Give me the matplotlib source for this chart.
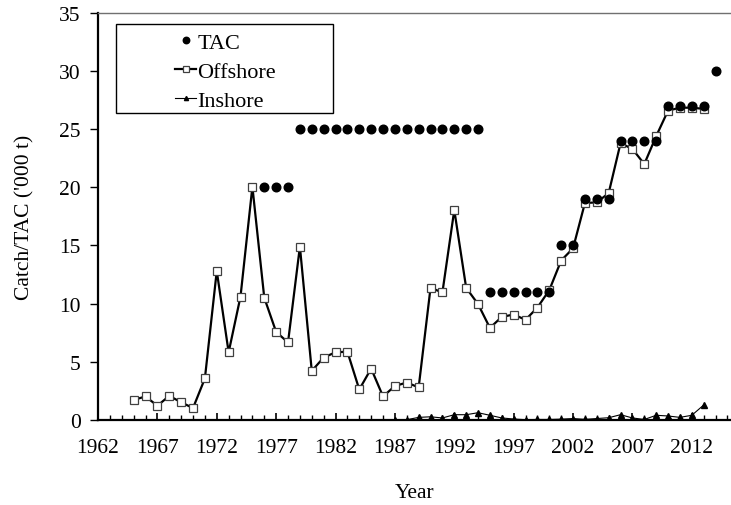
import matplotlib
matplotlib.use("Agg")
import matplotlib.pyplot as plt
from matplotlib.patches import Rectangle
import numpy as np

plt.rcParams['font.family'] = ['Liberation Serif', 'DejaVu Serif']

# ---- data ----
offshore_years = list(range(1965, 2014))
offshore_vals = [1.7, 2.0, 1.2, 2.05, 1.5, 1.0, 3.55, 12.8, 5.8, 10.6,
                 20.05, 10.5, 7.55, 6.65, 14.9, 4.2, 5.35, 5.8, 5.85, 2.6,
                 4.4, 2.0, 2.9, 3.2, 2.78, 11.35, 10.95, 18.05, 11.35, 9.95,
                 7.9, 8.85, 9.05, 8.6, 9.65, 11.15, 13.7, 14.75, 18.65, 18.7,
                 19.5, 23.8, 23.3, 22.0, 24.4, 26.6, 26.85, 26.85, 26.75]

tac_years = [1976, 1977, 1978] + list(range(1979, 1995)) + list(range(1995, 2001)) \
    + [2001, 2002] + [2003, 2004, 2005] + [2006, 2007, 2008, 2009] \
    + [2010, 2011, 2012, 2013] + [2014]
tac_vals = [20, 20, 20] + [25] * 16 + [11] * 6 + [15, 15] + [19, 19, 19] \
    + [24, 24, 24, 24] + [27, 27, 27, 27] + [30]

inshore_years = list(range(1987, 2014))
inshore_vals = [0.0, 0.0, 0.2, 0.25, 0.15, 0.43, 0.43, 0.6, 0.38, 0.15,
                0.06, 0.0, 0.02, 0.02, 0.05, 0.1, 0.03, 0.1, 0.17, 0.43,
                0.15, 0.02, 0.38, 0.32, 0.2, 0.38, 1.26]

xticks = list(range(1962, 2016, 5))
yticks = list(range(0, 36, 5))

# ---- figure ----
W, H = 731, 506
fig = plt.figure(figsize=(W / 100, H / 100), dpi=100)
left, right, top, bottom = 98, 731, 14, 420.7
ax = fig.add_axes([left / W, 1 - bottom / H, (right - left) / W, (bottom - top) / H])

ax.plot(inshore_years, inshore_vals, color='black', lw=0.8, marker='^',
        markersize=4, mfc='black', mec='black', zorder=3, label='Inshore')
ax.plot(offshore_years, offshore_vals, color='black', lw=1.6, marker='s',
        markersize=5.5, mfc='white', mec='#404040', mew=0.9, zorder=4,
        label='Offshore')
ax.plot(tac_years, tac_vals, linestyle='none', marker='o', markersize=6.2,
        color='black', zorder=5, label='TAC')

ax.set_xlim(1962, 2015.3)
ax.set_ylim(0, 35)
ax.set_xticks(xticks)
ax.set_xticks(list(range(1962, 2016)), minor=True)
ax.set_yticks(yticks)

ax.tick_params(axis='x', which='major', direction='in', length=5, width=1.2,
               pad=13, labelsize=15.5)
ax.tick_params(axis='x', which='minor', direction='in', length=3.5, width=1.0)
ax.tick_params(axis='y', which='major', direction='out', length=5.5, width=1.0,
               pad=7, labelsize=15.5)

for s in ['left', 'bottom']:
    ax.spines[s].set_linewidth(1.6)
    ax.spines[s].set_color('black')
ax.spines['top'].set_color('#707070')
ax.spines['top'].set_linewidth(1.0)
ax.spines['right'].set_visible(False)

ax.set_xlabel('Year', fontsize=15.5, labelpad=19)
ax.set_ylabel("Catch/TAC ('000 t)", fontsize=15.5, labelpad=18)

# legend box
bx0, by0, bx1, by1 = 116, 25, 333, 114
fig.patches.append(Rectangle((bx0 / W, 1 - by1 / H), (bx1 - bx0) / W, (by1 - by0) / H,
                             transform=fig.transFigure, facecolor='white',
                             edgecolor='black', lw=1.0, zorder=10))
h, l = ax.get_legend_handles_labels()
order = [2, 1, 0]
cx = ((bx0 + bx1) / 2 + 1) / W
cy = 1 - ((by0 + by1) / 2 + 3) / H
leg = fig.legend([h[i] for i in order], [l[i] for i in order],
                 loc='center', bbox_to_anchor=(cx, cy),
                 frameon=False, fontsize=16, handlelength=0.95, handletextpad=0.05,
                 labelspacing=0.38, borderpad=0.2, markerscale=0.75)
leg.set_zorder(11)

fig.savefig('out.png', dpi=100)
